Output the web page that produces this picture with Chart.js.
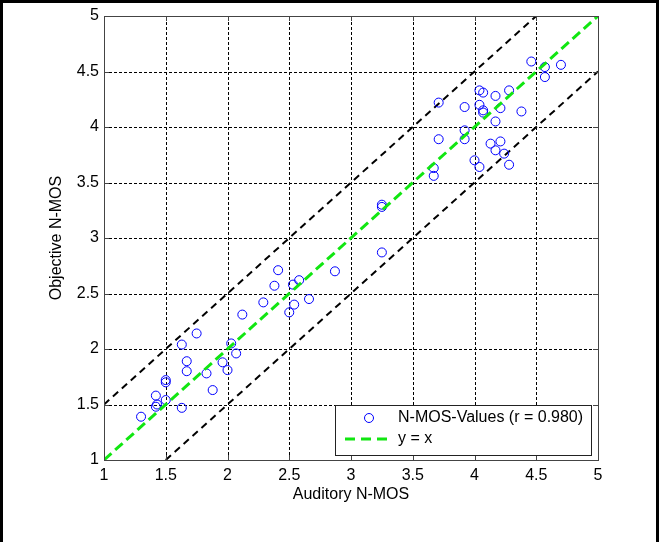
<!DOCTYPE html>
<html>
<head>
<meta charset="utf-8">
<script src="https://cdn.jsdelivr.net/npm/chart.js@4"></script>
<style>
  body { margin: 0; background: #fff; }
  canvas { display: block; }
</style>
</head>
<body>
<canvas id="myChart" width="659" height="542"></canvas>
<script>
// Scatter values
const auditoryMos = [
  1.30, 1.42, 1.43, 1.42, 1.50, 1.50, 1.50, 1.63, 1.63, 1.75, 1.67, 1.67, 1.83, 1.88, 1.96, 2.00, 2.03, 2.07,
  2.41, 2.38, 2.53, 2.58, 2.87, 2.29, 2.12, 2.54, 2.50, 2.66,
  3.25, 3.25, 3.25,
  4.46, 4.57, 4.70, 4.57, 4.04, 4.07, 4.17, 4.28,
  3.71, 3.92, 4.04, 4.07, 4.21, 4.07, 4.38, 4.17,
  3.92, 3.71, 3.92, 4.13, 4.21, 4.17, 4.24, 4.00, 4.04, 4.28, 3.67, 3.67
];
const objectiveMos = [
  1.39, 1.58, 1.50, 1.48, 1.72, 1.70, 1.54, 1.47, 2.04, 2.14, 1.89, 1.80, 1.78, 1.63, 1.88, 1.81, 2.05, 1.96,
  2.71, 2.57, 2.58, 2.62, 2.70, 2.42, 2.31, 2.40, 2.33, 2.45,
  3.30, 3.28, 2.87,
  4.59, 4.54, 4.56, 4.45, 4.33, 4.31, 4.28, 4.33,
  4.22, 4.18, 4.20, 4.15, 4.17, 4.13, 4.14, 4.05,
  3.97, 3.89, 3.89, 3.85, 3.87, 3.79, 3.76, 3.70, 3.64, 3.66, 3.63, 3.56
];

// Reference lines: y = x and the +/- 0.5 band
const diagX = [1, 5];
const diagY = [1, 5];
const upperX = [1, 4.5];
const upperY = [1.5, 5];
const lowerX = [1.5, 5];
const lowerY = [1, 4.5];

const tickValues = [1, 1.5, 2, 2.5, 3, 3.5, 4, 4.5, 5];
const scatterLabel = 'N-MOS-Values (r = 0.980)';
const diagLabel = 'y = x';

const fontFamily = '"Liberation Sans", Arial, sans-serif';
const fontSize = 16;
const blue = '#0000ff';
const green = '#11e611';
const axisColor = '#444';

const toPoints = (xs, ys) => xs.map((x, i) => ({ x: x, y: ys[i] }));

// Dotted grid, box, inward ticks, legend and figure frame (MATLAB look)
const matlabPlugin = {
  id: 'matlabPlugin',
  beforeDraw(chart) {
    const ctx = chart.ctx;
    ctx.save();
    ctx.fillStyle = '#fff';
    ctx.fillRect(0, 0, chart.width, chart.height);
    ctx.restore();
  },
  beforeDatasetsDraw(chart) {
    const ctx = chart.ctx;
    const a = chart.chartArea;
    const xs = chart.scales.x;
    const ys = chart.scales.y;
    ctx.save();
    ctx.strokeStyle = '#000';
    ctx.lineWidth = 1;
    ctx.setLineDash([3, 2]);
    ctx.beginPath();
    tickValues.slice(1, -1).forEach(v => {
      const px = Math.round(xs.getPixelForValue(v)) + 0.5;
      const py = Math.round(ys.getPixelForValue(v)) + 0.5;
      ctx.moveTo(px, a.bottom); ctx.lineTo(px, a.top);
      ctx.moveTo(a.left, py); ctx.lineTo(a.right, py);
    });
    ctx.stroke();
    ctx.restore();
  },
  afterDraw(chart) {
    const ctx = chart.ctx;
    const a = chart.chartArea;
    const xs = chart.scales.x;
    const ys = chart.scales.y;
    ctx.save();

    // axes box
    ctx.strokeStyle = axisColor;
    ctx.lineWidth = 1;
    ctx.strokeRect(Math.round(a.left) + 0.5, Math.round(a.top) + 0.5,
      Math.round(a.right - a.left), Math.round(a.bottom - a.top));

    // inward ticks on all four sides
    ctx.beginPath();
    tickValues.forEach(v => {
      const px = Math.round(xs.getPixelForValue(v)) + 0.5;
      const py = Math.round(ys.getPixelForValue(v)) + 0.5;
      ctx.moveTo(px, a.bottom); ctx.lineTo(px, a.bottom - 5);
      ctx.moveTo(px, a.top); ctx.lineTo(px, a.top + 5);
      ctx.moveTo(a.left, py); ctx.lineTo(a.left + 5, py);
      ctx.moveTo(a.right, py); ctx.lineTo(a.right - 5, py);
    });
    ctx.stroke();

    // legend box
    const lx = 335, ly = 405, lw = 256, lh = 50;
    ctx.fillStyle = '#fff';
    ctx.fillRect(lx, ly, lw, lh);
    ctx.strokeStyle = '#222';
    ctx.strokeRect(lx + 0.5, ly + 0.5, lw, lh);

    ctx.strokeStyle = blue;
    ctx.lineWidth = 1;
    ctx.beginPath();
    ctx.arc(369, 418, 4.5, 0, Math.PI * 2);
    ctx.stroke();

    ctx.strokeStyle = green;
    ctx.lineWidth = 3;
    ctx.setLineDash([10, 6]);
    ctx.beginPath();
    ctx.moveTo(345, 439);
    ctx.lineTo(393, 439);
    ctx.stroke();
    ctx.setLineDash([]);

    ctx.fillStyle = '#000';
    ctx.font = fontSize + 'px ' + fontFamily;
    ctx.textBaseline = 'middle';
    ctx.textAlign = 'left';
    ctx.fillText(chart.data.datasets[1].label, 398, 418);
    ctx.fillText(chart.data.datasets[0].label, 398, 439);

    // figure frame
    ctx.fillStyle = '#000';
    ctx.fillRect(0, 0, 3, chart.height);
    ctx.fillRect(0, 0, chart.width, 3);
    ctx.fillRect(656, 0, 3, chart.height);
    ctx.restore();
  }
};

const ctx = document.getElementById('myChart').getContext('2d');
const tickFont = { family: fontFamily, size: fontSize };
const myChart = new Chart(ctx, {
  type: 'scatter',
  data: {
    datasets: [
      {
        label: diagLabel,
        type: 'line',
        data: toPoints(diagX, diagY),
        borderColor: green,
        borderWidth: 3,
        borderDash: [10, 5],
        pointRadius: 0,
        fill: false,
        order: 0
      },
      {
        label: scatterLabel,
        data: toPoints(auditoryMos, objectiveMos),
        pointStyle: 'circle',
        pointRadius: 4.5,
        pointBorderWidth: 1,
        pointBorderColor: blue,
        pointBackgroundColor: 'rgba(0,0,0,0)',
        order: 1
      },
      {
        label: 'upper',
        type: 'line',
        data: toPoints(upperX, upperY),
        borderColor: '#000',
        borderWidth: 2,
        borderDash: [7, 5],
        pointRadius: 0,
        fill: false,
        order: 2
      },
      {
        label: 'lower',
        type: 'line',
        data: toPoints(lowerX, lowerY),
        borderColor: '#000',
        borderWidth: 2,
        borderDash: [7, 5],
        pointRadius: 0,
        fill: false,
        order: 2
      }
    ]
  },
  options: {
    responsive: false,
    animation: false,
    layout: { padding: { left: 44, top: 16, right: 61, bottom: 32 } },
    plugins: {
      legend: { display: false },
      tooltip: { enabled: false }
    },
    scales: {
      x: {
        type: 'linear',
        min: 1,
        max: 5,
        afterBuildTicks: s => { s.ticks = tickValues.map(v => ({ value: v })); },
        afterFit: s => { s.height = 50; },
        grid: { drawOnChartArea: false, drawTicks: false },
        border: { display: false },
        ticks: { padding: 6, color: '#000', font: tickFont, callback: v => String(v) },
        title: {
          display: true,
          text: 'Auditory N-MOS',
          color: '#000',
          padding: { top: 0, bottom: 6 },
          font: tickFont
        }
      },
      y: {
        type: 'linear',
        min: 1,
        max: 5,
        afterBuildTicks: s => { s.ticks = tickValues.map(v => ({ value: v })); },
        afterFit: s => { s.width = 60; },
        grid: { drawOnChartArea: false, drawTicks: false },
        border: { display: false },
        ticks: { padding: 5, color: '#000', font: tickFont, callback: v => String(v) },
        title: {
          display: true,
          text: 'Objective N-MOS',
          color: '#000',
          padding: { top: 3, bottom: 0 },
          font: tickFont
        }
      }
    }
  },
  plugins: [matlabPlugin]
});
</script>
</body>
</html>
